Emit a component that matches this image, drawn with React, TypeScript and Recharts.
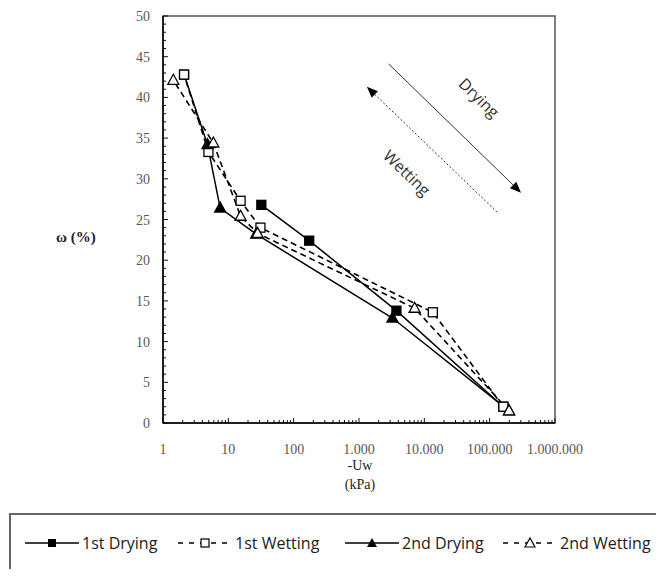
import React from "react";
import { Line, LineChart, ReferenceArea, ReferenceLine, XAxis, YAxis } from "recharts";

// suction (kPa) vs water content (%)
const dry1 = [
  { x: 2.1, y: 42.8 },
  { x: 10, y: null },
  { x: 32, y: 26.8 },
  { x: 173, y: 22.4 },
  { x: 3740, y: 13.8 },
  { x: 162000, y: 2.0 },
];
const wet1 = [
  { x: 162000, y: 2.0 },
  { x: 13500, y: 13.6 },
  { x: 31, y: 24.0 },
  { x: 15.4, y: 27.3 },
  { x: 4.96, y: 33.3 },
  { x: 2.1, y: 42.8 },
];
const dry2 = [
  { x: 2.1, y: 42.8 },
  { x: 4.8, y: 34.2 },
  { x: 7.5, y: 26.4 },
  { x: 26.7, y: 23.2 },
  { x: 3250, y: 12.9 },
  { x: 198000, y: 1.5 },
];
const wet2 = [
  { x: 198000, y: 1.5 },
  { x: 7100, y: 14.1 },
  { x: 28, y: 23.3 },
  { x: 15.4, y: 25.4 },
  { x: 5.9, y: 34.4 },
  { x: 1.44, y: 42.1 },
];

const xMajor = [1, 10, 100, 1000, 10000, 100000, 1000000];
const xMinorMult = [2, 3, 4, 5, 6, 7, 8, 9];
const xMinor = xMajor.slice(0, -1).flatMap((d) => xMinorMult.map((m) => d * m));
const yMajor = [0, 5, 10, 15, 20, 25, 30, 35, 40, 45, 50];
const yMinor = Array.from({ length: 51 }, (_, i) => i).filter((v) => v % 5 !== 0);

// annotation arrows in data units
const dryingArrow = [
  { x: 2850, y: 44.1 },
  { x: 302000, y: 28.3 },
];
const wettingArrow = [
  { x: 130000, y: 25.9 },
  { x: 1320, y: 41.3 },
];

const fmt = (v: number) => v.toLocaleString("de-DE");
const serif = "'Liberation Serif', 'DejaVu Serif', serif";
const sans = "'Open Sans', 'Noto Sans', sans-serif";
const tickGray = "#595959";

function XTick({ x, y, payload }: any) {
  return (
    <text x={x} y={y + 31} textAnchor="middle" fill={tickGray} fontFamily={serif} fontSize={14}>
      {fmt(payload.value)}
    </text>
  );
}

function YTick({ x, y, payload }: any) {
  return (
    <text x={x - 13} y={y + 5} textAnchor="end" fill={tickGray} fontFamily={serif} fontSize={14}>
      {payload.value}
    </text>
  );
}

// inward tick marks drawn at the bottom / left edge of a full-height reference line
const xTickMark = (len: number) => (p: any) => {
  const yb = Math.max(p.y1, p.y2);
  return <line x1={p.x1} x2={p.x1} y1={yb} y2={yb - len} stroke="#111" strokeWidth={1} />;
};
const yTickMark = (len: number) => (p: any) => {
  const xl = Math.min(p.x1, p.x2);
  return <line x1={xl} x2={xl + len} y1={p.y1} y2={p.y1} stroke="#111" strokeWidth={1} />;
};

function Square({ cx, cy, filled }: { cx: number; cy: number; filled: boolean }) {
  return (
    <rect
      x={cx - 4.5}
      y={cy - 4.5}
      width={9}
      height={9}
      fill={filled ? "#000" : "#fff"}
      stroke="#000"
      strokeWidth={1.3}
    />
  );
}

function Triangle({ cx, cy, filled }: { cx: number; cy: number; filled: boolean }) {
  return (
    <polygon
      points={`${cx},${cy - 6} ${cx - 5.5},${cy + 4} ${cx + 5.5},${cy + 4}`}
      fill={filled ? "#000" : "#fff"}
      stroke="#000"
      strokeWidth={1.3}
    />
  );
}

const dot =
  (kind: "sq" | "tri", filled: boolean, skipFirst = false) =>
  (p: any) => {
    if (p.cy == null || p.cx == null || Number.isNaN(p.cy) || (skipFirst && p.index === 0))
      return <g key={p.index} />;
    return kind === "sq" ? (
      <Square key={p.index} cx={p.cx} cy={p.cy} filled={filled} />
    ) : (
      <Triangle key={p.index} cx={p.cx} cy={p.cy} filled={filled} />
    );
  };

function Arrow({ x1, y1, x2, y2, dashed, label, dist, along }: any) {
  const dx = x2 - x1;
  const dy = y2 - y1;
  const len = Math.hypot(dx, dy);
  const ux = dx / len;
  const uy = dy / len;
  const hx = x2 - ux * 11;
  const hy = y2 - uy * 11;
  const mx = (x1 + x2) / 2;
  const my = (y1 + y2) / 2;
  const sx = Math.abs(ux);
  const sy = Math.abs(uy);
  const tx = mx + sy * dist + sx * along;
  const ty = my - sx * dist + sy * along;
  const ang = (Math.atan2(sy, sx) * 180) / Math.PI;
  return (
    <g>
      <line
        x1={x1}
        y1={y1}
        x2={hx}
        y2={hy}
        stroke="#333"
        strokeWidth={1}
        strokeDasharray={dashed ? "2 2" : undefined}
      />
      <polygon
        points={`${x2},${y2} ${hx + uy * 4.5},${hy - ux * 4.5} ${hx - uy * 4.5},${hy + ux * 4.5}`}
        fill="#000"
      />
      <text
        x={tx}
        y={ty}
        transform={`rotate(${ang} ${tx} ${ty})`}
        textAnchor="middle"
        dominantBaseline="central"
        fontFamily={sans}
        fontSize={16}
        fill="#333"
      >
        {label}
      </text>
    </g>
  );
}

function LegendItem({ left, dashed, marker, label }: any) {
  return (
    <div style={{ position: "absolute", left, top: 0, height: 56, display: "flex", alignItems: "center" }}>
      <svg width={54} height={14} style={{ display: "block" }}>
        <line
          x1={0}
          x2={54}
          y1={7}
          y2={7}
          stroke="#000"
          strokeWidth={1.5}
          strokeDasharray={dashed ? "5 6" : undefined}
        />
        {marker}
      </svg>
      <span style={{ marginLeft: 3, fontFamily: sans, fontSize: 16, color: "#222", whiteSpace: "nowrap" }}>
        {label}
      </span>
    </div>
  );
}

export default function App() {
  return (
    <div style={{ position: "relative", width: 664, height: 577, overflow: "hidden", background: "#fff", margin: -8 }}>
      <LineChart width={664} height={577} margin={{ top: 16, right: 109, bottom: 94, left: 103 }}>
        <ReferenceArea
          x1={1}
          x2={1000000}
          y1={0}
          y2={50}
          ifOverflow="visible"
          fill="#fff"
          fillOpacity={0}
          stroke="#555"
          strokeWidth={1.5}
        />
        <XAxis
          dataKey="x"
          type="number"
          scale="log"
          domain={[1, 1000000]}
          allowDataOverflow
          ticks={xMajor}
          interval={0}
          tick={<XTick />}
          tickLine={false}
          tickSize={0}
          tickMargin={0}
          height={60}
          axisLine={{ stroke: "#000", strokeWidth: 1.5 }}
        />
        <YAxis
          type="number"
          domain={[0, 50]}
          ticks={yMajor}
          interval={0}
          tick={<YTick />}
          tickLine={false}
          tickSize={0}
          tickMargin={0}
          width={60}
          axisLine={{ stroke: "#000", strokeWidth: 1.5 }}
        />
        {xMajor.map((v) => (
          <ReferenceLine key={`xM${v}`} x={v} ifOverflow="visible" shape={xTickMark(5)} />
        ))}
        {xMinor.map((v) => (
          <ReferenceLine key={`xm${v}`} x={v} ifOverflow="visible" shape={xTickMark(3)} />
        ))}
        {yMajor.map((v) => (
          <ReferenceLine key={`yM${v}`} y={v} ifOverflow="visible" shape={yTickMark(5)} />
        ))}
        {yMinor.map((v) => (
          <ReferenceLine key={`ym${v}`} y={v} ifOverflow="visible" shape={yTickMark(3)} />
        ))}
        <ReferenceLine
          segment={dryingArrow}
          ifOverflow="visible"
          shape={(p: any) => <Arrow {...p} label="Drying" dist={39} along={-4} />}
        />
        <ReferenceLine
          segment={wettingArrow}
          ifOverflow="visible"
          shape={(p: any) => <Arrow {...p} dashed label="Wetting" dist={-34} along={-2} />}
        />
        <Line
          data={dry1}
          dataKey="y"
          stroke="#000"
          strokeWidth={1.5}
          dot={dot("sq", true)}
          isAnimationActive={false}
        />
        <Line
          data={wet1}
          dataKey="y"
          stroke="#000"
          strokeWidth={1.6}
          strokeDasharray="6 4"
          dot={dot("sq", false)}
          isAnimationActive={false}
        />
        <Line
          data={dry2}
          dataKey="y"
          stroke="#000"
          strokeWidth={1.5}
          dot={dot("tri", true, true)}
          isAnimationActive={false}
        />
        <Line
          data={wet2}
          dataKey="y"
          stroke="#000"
          strokeWidth={1.6}
          strokeDasharray="6 4"
          dot={dot("tri", false)}
          isAnimationActive={false}
        />
      </LineChart>

      <div style={{ position: "absolute", left: 56, top: 229, fontFamily: serif, fontSize: 15, fontWeight: "bold", color: "#222" }}>
        ω (%)
      </div>
      <div style={{ position: "absolute", left: 310, width: 100, top: 456, textAlign: "center", fontFamily: serif, fontSize: 14, color: "#222", lineHeight: "19px" }}>
        -Uw
        <br />
        (kPa)
      </div>

      <div
        style={{
          position: "absolute",
          left: 9,
          top: 513,
          width: 700,
          height: 100,
          border: "2px solid #666",
          boxSizing: "border-box",
        }}
      >
        <LegendItem left={14} label="1st Drying" marker={<rect x={23} y={3} width={8} height={8} fill="#000" />} />
        <LegendItem
          left={167}
          dashed
          label="1st Wetting"
          marker={<rect x={23} y={3} width={8} height={8} fill="#fff" stroke="#000" strokeWidth={1.2} />}
        />
        <LegendItem
          left={334}
          label="2nd Drying"
          marker={<polygon points="27,2 22,11 32,11" fill="#000" />}
        />
        <LegendItem
          left={492}
          dashed
          label="2nd Wetting"
          marker={<polygon points="27,2 22,11 32,11" fill="#fff" stroke="#000" strokeWidth={1.2} />}
        />
      </div>
    </div>
  );
}
